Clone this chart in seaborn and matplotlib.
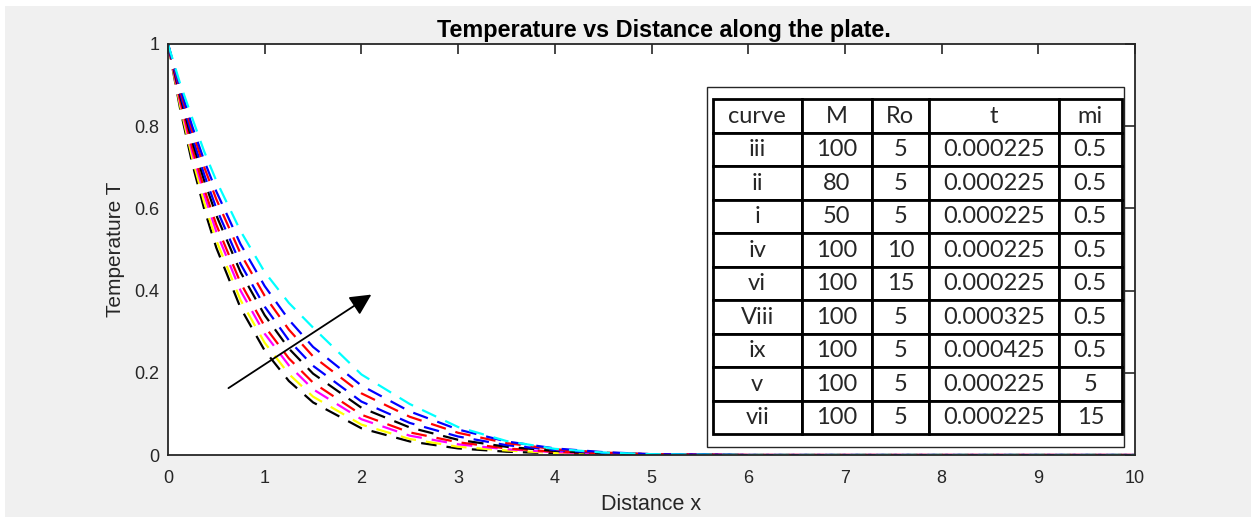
import numpy as np
import pandas as pd
import seaborn as sns
import matplotlib.pyplot as plt
from matplotlib.patches import Rectangle

# distance samples along the plate
x_vals = [0, 0.125, 0.25, 0.375, 0.5, 0.75, 1, 1.25, 1.5, 2, 2.5, 3, 3.5, 4, 4.5, 5, 6, 10]

# temperature curves (inner -> outer)
T1 = [1, 0.843, 0.710, 0.598, 0.504, 0.358, 0.254, 0.180, 0.128, 0.065, 0.033, 0.016, 0.008, 0.004, 0.002, 0.001, 0, 0]
T2 = [1, 0.850, 0.723, 0.614, 0.522, 0.377, 0.273, 0.197, 0.142, 0.074, 0.039, 0.020, 0.011, 0.005, 0.003, 0.001, 0, 0]
T3 = [1, 0.859, 0.737, 0.633, 0.543, 0.400, 0.295, 0.218, 0.160, 0.087, 0.047, 0.026, 0.014, 0.007, 0.003, 0.001, 0, 0]
T4 = [1, 0.865, 0.748, 0.647, 0.560, 0.419, 0.313, 0.235, 0.176, 0.098, 0.055, 0.031, 0.016, 0.008, 0.004, 0.001, 0, 0]
T5 = [1, 0.874, 0.763, 0.667, 0.583, 0.445, 0.340, 0.259, 0.198, 0.115, 0.067, 0.037, 0.020, 0.010, 0.004, 0.002, 0, 0]
T6 = [1, 0.880, 0.775, 0.682, 0.600, 0.465, 0.361, 0.279, 0.217, 0.130, 0.078, 0.045, 0.024, 0.012, 0.005, 0.002, 0, 0]
T7 = [1, 0.888, 0.789, 0.700, 0.622, 0.490, 0.387, 0.305, 0.240, 0.150, 0.093, 0.054, 0.029, 0.014, 0.006, 0.002, 0, 0]
T8 = [1, 0.895, 0.800, 0.716, 0.641, 0.513, 0.411, 0.329, 0.263, 0.169, 0.106, 0.062, 0.033, 0.016, 0.007, 0.002, 0, 0]
T9 = [1, 0.904, 0.820, 0.738, 0.667, 0.545, 0.445, 0.370, 0.310, 0.196, 0.124, 0.068, 0.034, 0.015, 0.006, 0.002, 0, 0]
curve_colors = ['black', '#ffff00', '#ff00ff', 'red', 'black', 'blue', 'red', 'blue', 'cyan']

# parameter table
col_labels = ['curve', 'M', 'Ro', 't', 'mi']
curve_names = ['iii', 'ii', 'i', 'iv', 'vi', 'Viii', 'ix', 'v', 'vii']
M_vals = ['100', '80', '50', '100', '100', '100', '100', '100', '100']
Ro_vals = ['5', '5', '5', '10', '15', '5', '5', '5', '5']
t_vals = ['0.000225', '0.000225', '0.000225', '0.000225', '0.000225', '0.000325', '0.000425', '0.000225', '0.000225']
mi_vals = ['0.5', '0.5', '0.5', '0.5', '0.5', '0.5', '0.5', '5', '15']

series = [T1, T2, T3, T4, T5, T6, T7, T8, T9]
df = pd.DataFrame({
    'x': np.tile(x_vals, len(series)),
    'T': np.concatenate(series),
    'c': np.repeat(np.arange(len(series)), len(x_vals)),
})

sns.set_style('white')
plt.rcParams['font.family'] = ['Liberation Sans', 'DejaVu Sans']

fig = plt.figure(figsize=(12.51, 5.18), dpi=100, facecolor='white')
fig.patches.append(Rectangle((5 / 1251, 1 / 518), 1.1, (518 - 7) / 518, transform=fig.transFigure,
                             facecolor='#f0f0f0', edgecolor='none', zorder=-10))
ax = fig.add_axes([168 / 1251, 63 / 518, 967 / 1251, 411 / 518])

sns.lineplot(data=df, x='x', y='T', hue='c', palette=curve_colors, estimator=None, sort=False,
             legend=False, ax=ax, linestyle='--', dashes=False, linewidth=1.6)
for line in ax.get_lines():
    line.set_dashes((7, 4.5))

ax.set_xlim(0, 10)
ax.set_ylim(0, 1)
ax.set_xticks(range(11))
ax.set_yticks([0, 0.2, 0.4, 0.6, 0.8, 1])
ax.set_yticklabels(['0', '0.2', '0.4', '0.6', '0.8', '1'])
ax.tick_params(direction='in', length=7, width=1.2, top=True, right=True, labelsize=13,
               colors='#262626', pad=6)
ax.tick_params(axis='x', pad=11)
for s in ax.spines.values():
    s.set_visible(True)
    s.set_linewidth(1.3)
    s.set_color('#262626')
ax.set_xlabel('Distance x', fontsize=15.5, color='#262626', labelpad=5)
ax.set_ylabel('Temperature T', fontsize=15, color='#262626', labelpad=7)
ax.set_title('Temperature vs Distance along the plate.', fontsize=16.8, fontweight='bold',
             color='black', pad=5, x=0.513)

ax.annotate('', xy=(2.127, 0.394), xytext=(0.601, 0.159),
            arrowprops=dict(arrowstyle='-|>', color='black', lw=1.3, mutation_scale=32))

# framed table
ax.add_patch(Rectangle((0.5577, 0.0202), 0.4309, 0.8744, transform=ax.transAxes,
                       facecolor='white', edgecolor='#262626', linewidth=1.0, zorder=5))
rows = [[a, b, c, d, e] for a, b, c, d, e in zip(curve_names, M_vals, Ro_vals, t_vals, mi_vals)]
tbl = ax.table(cellText=rows, colLabels=col_labels, cellLoc='center',
               colWidths=[89, 70, 57.3, 130, 62.7],
               bbox=[0.5633, 0.0504, 0.4229, 0.8151], zorder=6)
tbl.auto_set_font_size(False)
for cell in tbl.get_celld().values():
    cell.set_linewidth(2.0)
    cell.set_edgecolor('black')
    cell.get_text().set_fontsize(17)
    cell.get_text().set_family(['Lato', 'DejaVu Sans'])

fig.savefig('out.png', dpi=100, facecolor=fig.get_facecolor())
